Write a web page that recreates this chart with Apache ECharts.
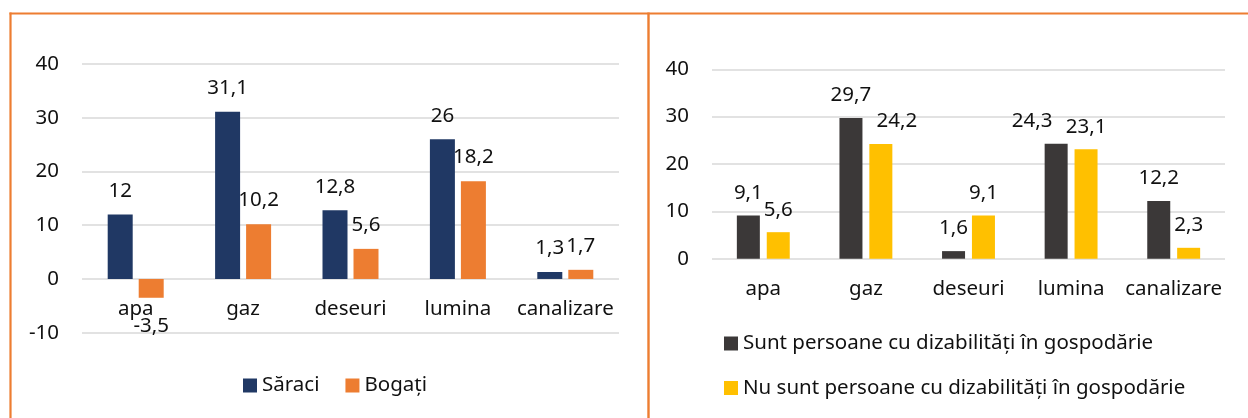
<!DOCTYPE html>
<html>
<head>
<meta charset="utf-8">
<script src="https://cdn.jsdelivr.net/npm/echarts@6/dist/echarts.min.js"></script>
<style>
html,body{margin:0;padding:0;background:#fff;}
#chart{width:1248px;height:418px;}
</style>
</head>
<body>
<div id="chart"></div>
<script>
// ---- data ----
const categories = ['apa', 'gaz', 'deseuri', 'lumina', 'canalizare'];
const leftSeriesNames = ['Săraci', 'Bogați'];
const saraci = [12, 31.1, 12.8, 26, 1.3];
const bogati = [-3.5, 10.2, 5.6, 18.2, 1.7];
const rightSeriesNames = ['Sunt persoane cu dizabilități în gospodărie', 'Nu sunt persoane cu dizabilități în gospodărie'];
const cuDizabilitati = [9.1, 29.7, 1.6, 24.3, 12.2];
const faraDizabilitati = [5.6, 24.2, 9.1, 23.1, 2.3];
const leftTicks = [-10, 0, 10, 20, 30, 40];
const rightTicks = [0, 10, 20, 30, 40];

// ---- styling (label nudges to avoid overlaps, as in the original) ----
const FONT = 'Noto Sans';
const FS = 20.5;
const TXT = '#111111';
const GRIDC = '#d9d9d9';
const labelNudge = {
  cu: { 3: [-24, 0] },
  fara: { 1: [16, 0] }
};
const fmt = v => String(v).replace('.', ',');

function withLabelPos(arr, dTop, dBottom, nudge) {
  return arr.map((v, i) => {
    const lab = v < 0 ? { position: 'bottom', distance: dBottom } : { position: 'top', distance: dTop };
    if (nudge && nudge[i]) lab.offset = nudge[i];
    return { value: v, label: lab };
  });
}

const chart = echarts.init(document.getElementById('chart'), null, { renderer: 'canvas' });

const labelBase = {
  show: true,
  color: TXT,
  fontFamily: FONT,
  fontSize: FS,
  formatter: p => fmt(p.value)
};

// left grid geometry: the category labels sit beside the zero line, one tick (10 units) above the grid bottom
const LEFT_GRID = { left: 82, right: 629, top: 64, bottom: 85.3 };
const leftUnit = (418 - LEFT_GRID.top - LEFT_GRID.bottom) / (leftTicks[leftTicks.length - 1] - leftTicks[0]);
const leftZeroOffset = -(0 - leftTicks[0]) * leftUnit;

function xAxis(gi, offset) {
  return {
    type: 'category',
    gridIndex: gi,
    data: categories,
    offset: offset,
    axisTick: { show: false },
    axisLine: { show: false, onZero: false },
    axisLabel: { color: TXT, fontFamily: FONT, fontSize: FS, margin: 20, interval: 0 },
    splitLine: { show: false }
  };
}
function yAxis(gi, ticks) {
  return {
    type: 'value',
    gridIndex: gi,
    min: ticks[0],
    max: ticks[ticks.length - 1],
    interval: ticks[1] - ticks[0],
    axisLine: { show: false },
    axisTick: { show: false },
    axisLabel: { color: TXT, fontFamily: FONT, fontSize: FS, margin: 23 },
    splitLine: { lineStyle: { color: GRIDC, width: 1.5 } }
  };
}

const option = {
  animation: false,
  backgroundColor: '#ffffff',
  grid: [
    LEFT_GRID,
    { left: 712, right: 23, top: 69.3, bottom: 159.3 }
  ],
  xAxis: [xAxis(0, leftZeroOffset), xAxis(1, 0)],
  yAxis: [yAxis(0, leftTicks), yAxis(1, rightTicks)],
  legend: [
    {
      data: leftSeriesNames,
      left: 238, top: 370,
      orient: 'horizontal',
      icon: 'rect', itemWidth: 14, itemHeight: 14, itemGap: 26,
      textStyle: { color: TXT, fontFamily: FONT, fontSize: FS }
    },
    {
      data: rightSeriesNames,
      left: 719, top: 328,
      orient: 'vertical',
      icon: 'rect', itemWidth: 14, itemHeight: 14, itemGap: 23.5,
      textStyle: { color: TXT, fontFamily: FONT, fontSize: FS }
    }
  ],
  series: [
    {
      name: leftSeriesNames[0], type: 'bar', xAxisIndex: 0, yAxisIndex: 0,
      data: withLabelPos(saraci, 13, 18), barWidth: 25, barGap: '24%',
      itemStyle: { color: '#203864' }, label: labelBase
    },
    {
      name: leftSeriesNames[1], type: 'bar', xAxisIndex: 0, yAxisIndex: 0,
      data: withLabelPos(bogati, 13, 18), barWidth: 25, barGap: '24%',
      itemStyle: { color: '#ED7D31' }, label: labelBase
    },
    {
      name: rightSeriesNames[0], type: 'bar', xAxisIndex: 1, yAxisIndex: 1,
      data: withLabelPos(cuDizabilitati, 12, 18, labelNudge.cu), barWidth: 23, barGap: '30%',
      itemStyle: { color: '#3B3838' }, label: labelBase
    },
    {
      name: rightSeriesNames[1], type: 'bar', xAxisIndex: 1, yAxisIndex: 1,
      data: withLabelPos(faraDizabilitati, 12, 18, labelNudge.fara), barWidth: 23, barGap: '30%',
      itemStyle: { color: '#FFC000' }, label: labelBase
    }
  ],
  graphic: [
    { type: 'line', shape: { x1: 9.5, y1: 13.5, x2: 1248, y2: 13.5 }, style: { stroke: '#ED7D31', lineWidth: 2.2 }, z: 100 },
    { type: 'line', shape: { x1: 10.5, y1: 12.5, x2: 10.5, y2: 418 }, style: { stroke: '#ED7D31', lineWidth: 2.2 }, z: 100 },
    { type: 'line', shape: { x1: 648.5, y1: 12.5, x2: 648.5, y2: 418 }, style: { stroke: '#ED7D31', lineWidth: 2.4 }, z: 100 }
  ]
};
chart.setOption(option);
</script>
</body>
</html>
